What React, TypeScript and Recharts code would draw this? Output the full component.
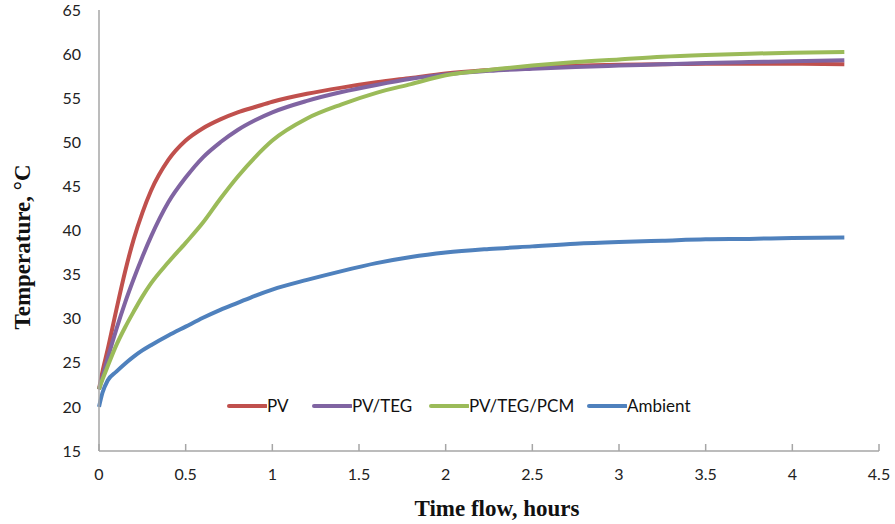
import { CartesianGrid, Label, Legend, Line, LineChart, XAxis, YAxis } from "recharts";

// time in hours
const hours = [0, 0.02, 0.05, 0.1, 0.15, 0.2, 0.25, 0.3, 0.4, 0.5, 0.6, 0.7, 0.8, 0.9, 1.0, 1.2, 1.4, 1.6, 1.8, 2.0, 2.25, 2.5, 2.75, 3.0, 3.25, 3.5, 3.75, 4.0, 4.3];

const pv = [22, 24.0, 26.5, 31, 35.3, 39, 42, 44.5, 48, 50.2, 51.6, 52.6, 53.4, 54.0, 54.6, 55.5, 56.2, 56.8, 57.3, 57.8, 58.2, 58.5, 58.7, 58.8, 58.85, 58.9, 58.9, 58.9, 58.85];
const pvTeg = [22, 23.4, 25.5, 28.8, 31.8, 34.5, 37, 39.3, 43.2, 46.0, 48.3, 50.0, 51.4, 52.5, 53.4, 54.7, 55.7, 56.5, 57.2, 57.7, 58.1, 58.35, 58.55, 58.7, 58.85, 59.0, 59.1, 59.2, 59.3];
const pvTegPcm = [22, 23.1, 24.6, 27.0, 29.0, 30.8, 32.5, 34.0, 36.4, 38.6, 40.9, 43.6, 46.1, 48.3, 50.2, 52.7, 54.3, 55.6, 56.6, 57.6, 58.2, 58.7, 59.1, 59.4, 59.7, 59.9, 60.05, 60.15, 60.25];
const ambient = [20, 21.6, 23.0, 24.0, 24.9, 25.7, 26.4, 27.0, 28.1, 29.1, 30.1, 31.0, 31.8, 32.6, 33.3, 34.4, 35.4, 36.3, 37.0, 37.5, 37.9, 38.2, 38.5, 38.7, 38.85, 39.0, 39.05, 39.15, 39.2];

const xTicks = [0, 0.5, 1, 1.5, 2, 2.5, 3, 3.5, 4, 4.5];
const yTicks = [15, 20, 25, 30, 35, 40, 45, 50, 55, 60, 65];

const series = [
  { key: "pv", name: "PV", color: "#C0504D" },
  { key: "pvTeg", name: "PV/TEG", color: "#8064A2" },
  { key: "pvTegPcm", name: "PV/TEG/PCM", color: "#9BBB59" },
  { key: "ambient", name: "Ambient", color: "#4F81BD" },
];

const data = hours.map((t, i) => ({ t, pv: pv[i], pvTeg: pvTeg[i], pvTegPcm: pvTegPcm[i], ambient: ambient[i] }));

const sans = "Lato, 'Open Sans', sans-serif";
const serif = "'Liberation Serif', serif";
const tickFont = { fontFamily: sans, fontSize: 16, fill: "#222" };
const axisColor = "#A6A6A6";
const tickMargin = 16;
const legendWidths = [85, 117, 158, 110];

function XTick(props: any) {
  const { x, y, payload } = props;
  const axisY = y - tickMargin;
  return (
    <g>
      <line x1={x} x2={x} y1={axisY - 7} y2={axisY} stroke={axisColor} strokeWidth={1.5} />
      <text x={x} y={y} dy={13} textAnchor="middle" {...tickFont}>{payload.value}</text>
    </g>
  );
}

function LegendContent() {
  return (
    <div style={{ display: "flex", alignItems: "center", fontFamily: sans, fontSize: 17, color: "#111", whiteSpace: "nowrap" }}>
      {series.map((s, i) => (
        <div key={s.key} style={{ display: "flex", alignItems: "center", width: legendWidths[i] }}>
          <svg width={40} height={8}><line x1={2} x2={39} y1={4} y2={4} stroke={s.color} strokeWidth={4} strokeLinecap="round" /></svg>
          <span>{s.name}</span>
        </div>
      ))}
    </div>
  );
}

export default function App() {
  return (
    <div style={{ position: "absolute", left: 0, top: 0, background: "#fff" }}>
      <LineChart width={895} height={524} data={data} margin={{ top: 10, right: 16, bottom: 43, left: 0 }}>
        <CartesianGrid stroke="none" />
        <XAxis
          dataKey="t"
          type="number"
          domain={[0, 4.5]}
          ticks={xTicks}
          interval={0}
          height={30}
          tickSize={0}
          tickMargin={tickMargin}
          tick={<XTick />}
          stroke={axisColor}
          strokeWidth={1.5}
        >
          <Label
            content={({ viewBox }: any) => (
              <text x={497} y={viewBox.y + viewBox.height + 35} textAnchor="middle" fontFamily={serif} fontWeight="bold" fontSize={23} fill="#111">
                Time flow, hours
              </text>
            )}
          />
        </XAxis>
        <YAxis
          type="number"
          domain={[15, 65]}
          ticks={yTicks}
          interval={0}
          width={99}
          tickLine={false}
          tickSize={0}
          tickMargin={18}
          tick={tickFont}
          stroke={axisColor}
          strokeWidth={1.5}
        >
          <Label
            content={() => (
              <text x={22} y={247} transform="rotate(-90, 22, 247)" textAnchor="middle" dominantBaseline="central" fontFamily={serif} fontWeight="bold" fontSize={23} fill="#111">
                Temperature, °C
              </text>
            )}
          />
        </YAxis>
        <Legend verticalAlign="middle" layout="horizontal" content={<LegendContent />} wrapperStyle={{ top: 395, left: 227, width: "auto" }} />
        {series.map((s) => (
          <Line
            key={s.key}
            dataKey={s.key}
            name={s.name}
            type="monotone"
            stroke={s.color}
            strokeWidth={4}
            dot={false}
            activeDot={false}
            isAnimationActive={false}
          />
        ))}
      </LineChart>
    </div>
  );
}
